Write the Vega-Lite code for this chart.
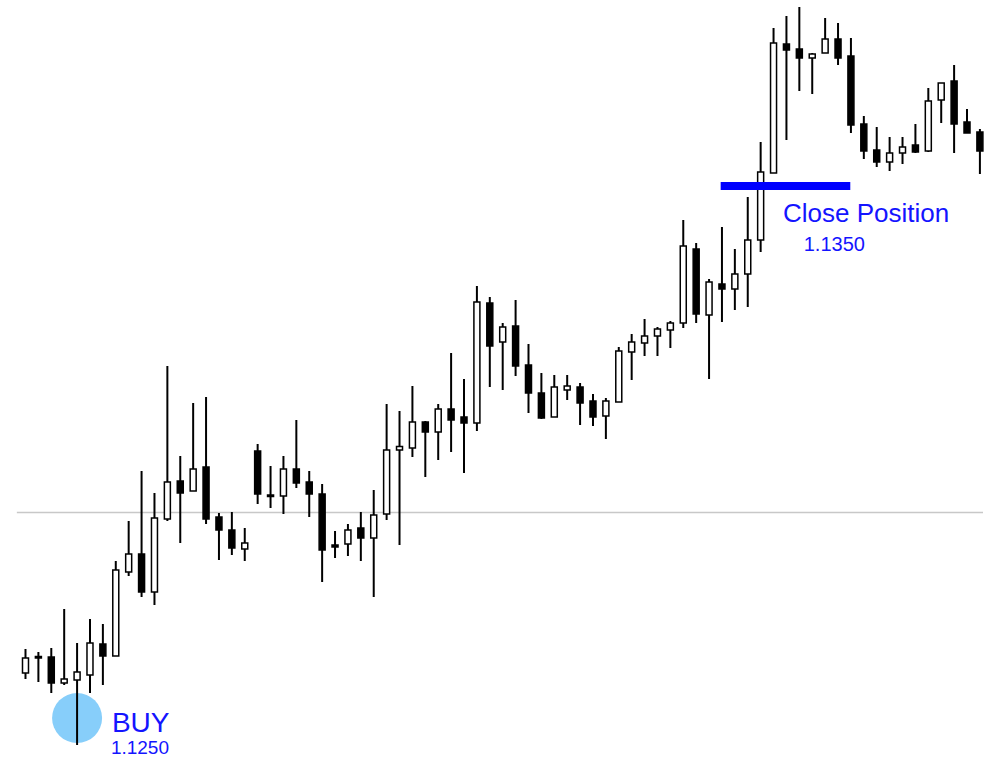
{
  "$schema": "https://vega.github.io/schema/vega-lite/v6.json",
  "width": 988,
  "height": 759,
  "autosize": {"type": "none"},
  "padding": 0,
  "background": "#ffffff",
  "config": {"view": {"stroke": null}},
  "datasets": {
    "candles": [
      {"i":0,"open":1.12526,"close":1.12556,"high":1.12574,"low":1.12514},
      {"i":1,"open":1.12559,"close":1.12556,"high":1.12568,"low":1.12508},
      {"i":2,"open":1.12558,"close":1.12506,"high":1.12576,"low":1.12486},
      {"i":3,"open":1.12506,"close":1.12514,"high":1.12654,"low":1.12502},
      {"i":4,"open":1.12512,"close":1.12528,"high":1.12586,"low":1.12382},
      {"i":5,"open":1.12522,"close":1.12586,"high":1.12634,"low":1.12486},
      {"i":6,"open":1.12584,"close":1.12560,"high":1.12624,"low":1.12502},
      {"i":7,"open":1.12560,"close":1.12732,"high":1.12750,"low":1.12560},
      {"i":8,"open":1.12728,"close":1.12764,"high":1.12830,"low":1.12720},
      {"i":9,"open":1.12764,"close":1.12688,"high":1.12930,"low":1.12678},
      {"i":10,"open":1.12688,"close":1.12836,"high":1.12886,"low":1.12662},
      {"i":11,"open":1.12834,"close":1.12908,"high":1.13140,"low":1.12830},
      {"i":12,"open":1.12910,"close":1.12886,"high":1.12960,"low":1.12786},
      {"i":13,"open":1.12890,"close":1.12934,"high":1.13066,"low":1.12890},
      {"i":14,"open":1.12938,"close":1.12834,"high":1.13078,"low":1.12824},
      {"i":15,"open":1.12838,"close":1.12812,"high":1.12846,"low":1.12752},
      {"i":16,"open":1.12812,"close":1.12776,"high":1.12848,"low":1.12762},
      {"i":17,"open":1.12774,"close":1.12786,"high":1.12816,"low":1.12750},
      {"i":18,"open":1.12970,"close":1.12884,"high":1.12984,"low":1.12864},
      {"i":19,"open":1.12882,"close":1.12879,"high":1.12940,"low":1.12856},
      {"i":20,"open":1.12880,"close":1.12934,"high":1.12960,"low":1.12844},
      {"i":21,"open":1.12934,"close":1.12906,"high":1.13032,"low":1.12896},
      {"i":22,"open":1.12908,"close":1.12884,"high":1.12930,"low":1.12838},
      {"i":23,"open":1.12884,"close":1.12772,"high":1.12904,"low":1.12708},
      {"i":24,"open":1.12782,"close":1.12778,"high":1.12810,"low":1.12756},
      {"i":25,"open":1.12784,"close":1.12812,"high":1.12824,"low":1.12760},
      {"i":26,"open":1.12816,"close":1.12796,"high":1.12848,"low":1.12750},
      {"i":27,"open":1.12796,"close":1.12842,"high":1.12892,"low":1.12678},
      {"i":28,"open":1.12844,"close":1.12972,"high":1.13064,"low":1.12832},
      {"i":29,"open":1.12972,"close":1.12979,"high":1.13050,"low":1.12782},
      {"i":30,"open":1.12976,"close":1.13028,"high":1.13100,"low":1.12958},
      {"i":31,"open":1.13028,"close":1.13008,"high":1.13030,"low":1.12918},
      {"i":32,"open":1.13008,"close":1.13054,"high":1.13064,"low":1.12952},
      {"i":33,"open":1.13054,"close":1.13032,"high":1.13166,"low":1.12968},
      {"i":34,"open":1.13038,"close":1.13026,"high":1.13114,"low":1.12926},
      {"i":35,"open":1.13026,"close":1.13268,"high":1.13300,"low":1.13010},
      {"i":36,"open":1.13266,"close":1.13180,"high":1.13278,"low":1.13098},
      {"i":37,"open":1.13188,"close":1.13218,"high":1.13226,"low":1.13092},
      {"i":38,"open":1.13220,"close":1.13140,"high":1.13272,"low":1.13120},
      {"i":39,"open":1.13142,"close":1.13086,"high":1.13184,"low":1.13046},
      {"i":40,"open":1.13086,"close":1.13036,"high":1.13126,"low":1.13034},
      {"i":41,"open":1.13038,"close":1.13098,"high":1.13122,"low":1.13038},
      {"i":42,"open":1.13092,"close":1.13100,"high":1.13122,"low":1.13072},
      {"i":43,"open":1.13098,"close":1.13066,"high":1.13106,"low":1.13022},
      {"i":44,"open":1.13070,"close":1.13038,"high":1.13084,"low":1.13020},
      {"i":45,"open":1.13040,"close":1.13070,"high":1.13076,"low":1.12994},
      {"i":46,"open":1.13068,"close":1.13170,"high":1.13178,"low":1.13068},
      {"i":47,"open":1.13168,"close":1.13188,"high":1.13204,"low":1.13112},
      {"i":48,"open":1.13186,"close":1.13200,"high":1.13234,"low":1.13160},
      {"i":49,"open":1.13200,"close":1.13214,"high":1.13218,"low":1.13160},
      {"i":50,"open":1.13212,"close":1.13226,"high":1.13230,"low":1.13176},
      {"i":51,"open":1.13226,"close":1.13380,"high":1.13432,"low":1.13216},
      {"i":52,"open":1.13374,"close":1.13244,"high":1.13386,"low":1.13226},
      {"i":53,"open":1.13242,"close":1.13308,"high":1.13314,"low":1.13114},
      {"i":54,"open":1.13304,"close":1.13294,"high":1.13418,"low":1.13228},
      {"i":55,"open":1.13294,"close":1.13324,"high":1.13374,"low":1.13252},
      {"i":56,"open":1.13324,"close":1.13392,"high":1.13478,"low":1.13258},
      {"i":57,"open":1.13392,"close":1.13528,"high":1.13588,"low":1.13368},
      {"i":58,"open":1.13526,"close":1.13786,"high":1.13816,"low":1.13526},
      {"i":59,"open":1.13784,"close":1.13772,"high":1.13840,"low":1.13592},
      {"i":60,"open":1.13774,"close":1.13756,"high":1.13858,"low":1.13690},
      {"i":61,"open":1.13756,"close":1.13764,"high":1.13766,"low":1.13684},
      {"i":62,"open":1.13766,"close":1.13794,"high":1.13836,"low":1.13766},
      {"i":63,"open":1.13794,"close":1.13756,"high":1.13826,"low":1.13742},
      {"i":64,"open":1.13760,"close":1.13622,"high":1.13796,"low":1.13606},
      {"i":65,"open":1.13624,"close":1.13570,"high":1.13640,"low":1.13554},
      {"i":66,"open":1.13572,"close":1.13548,"high":1.13618,"low":1.13538},
      {"i":67,"open":1.13548,"close":1.13566,"high":1.13598,"low":1.13530},
      {"i":68,"open":1.13566,"close":1.13578,"high":1.13598,"low":1.13544},
      {"i":69,"open":1.13582,"close":1.13568,"high":1.13624,"low":1.13566},
      {"i":70,"open":1.13570,"close":1.13670,"high":1.13696,"low":1.13568},
      {"i":71,"open":1.13672,"close":1.13706,"high":1.13706,"low":1.13626},
      {"i":72,"open":1.13710,"close":1.13624,"high":1.13742,"low":1.13566},
      {"i":73,"open":1.13628,"close":1.13606,"high":1.13654,"low":1.13606},
      {"i":74,"open":1.13608,"close":1.13570,"high":1.13614,"low":1.13524}
    ],
    "level": [{"price":1.12847,"from":-0.67,"to":74.24}],
    "exit": [{"price":1.1350,"from":53.9,"to":63.95}],
    "entry": [{"i":4,"price":1.12436}],
    "labels": [
      {"text":"BUY","i":6.7,"price":1.12408,"fs":28},
      {"text":"1.1250","i":6.62,"price":1.12364,"fs":19},
      {"text":"Close Position","i":58.73,"price":1.13429,"fs":26},
      {"text":"1.1350","i":60.34,"price":1.13370,"fs":20}
    ]
  },
  "layer": [
    {
      "data": {"name": "level"},
      "mark": {"type": "rule", "color": "#c8c8c8", "strokeWidth": 1.5},
      "encoding": {
        "x": {"field": "from", "type": "quantitative", "scale": {"domain": [-1.589, 74.24], "nice": false, "zero": false}, "axis": null},
        "x2": {"field": "to"},
        "y": {"field": "price", "type": "quantitative", "scale": {"domain": [1.12354, 1.13872], "nice": false, "zero": false}, "axis": null}
      }
    },
    {
      "data": {"name": "entry"},
      "mark": {"type": "point", "shape": "circle", "filled": true, "size": 2500, "color": "#87CEFA", "opacity": 1},
      "encoding": {
        "x": {"field": "i", "type": "quantitative"},
        "y": {"field": "price", "type": "quantitative"}
      }
    },
    {
      "data": {"name": "candles"},
      "mark": {"type": "rule", "color": "#000000", "strokeWidth": 2},
      "encoding": {
        "x": {"field": "i", "type": "quantitative"},
        "y": {"field": "low", "type": "quantitative"},
        "y2": {"field": "high"}
      }
    },
    {
      "data": {"name": "candles"},
      "mark": {"type": "bar", "width": 6, "stroke": "#000000", "strokeWidth": 1.5, "orient": "vertical"},
      "encoding": {
        "x": {"field": "i", "type": "quantitative"},
        "y": {"field": "open", "type": "quantitative"},
        "y2": {"field": "close"},
        "fill": {"condition": {"test": "datum.close < datum.open", "value": "#000000"}, "value": "#ffffff"}
      }
    },
    {
      "data": {"name": "exit"},
      "mark": {"type": "rule", "color": "#0000ff", "strokeWidth": 8, "strokeCap": "butt"},
      "encoding": {
        "x": {"field": "from", "type": "quantitative"},
        "x2": {"field": "to"},
        "y": {"field": "price", "type": "quantitative"}
      }
    },
    {
      "data": {"name": "labels"},
      "mark": {"type": "text", "align": "left", "baseline": "alphabetic", "font": "Liberation Sans", "color": "#1414ff"},
      "encoding": {
        "x": {"field": "i", "type": "quantitative"},
        "y": {"field": "price", "type": "quantitative"},
        "text": {"field": "text"},
        "size": {"field": "fs", "type": "quantitative", "scale": null}
      }
    }
  ]
}
